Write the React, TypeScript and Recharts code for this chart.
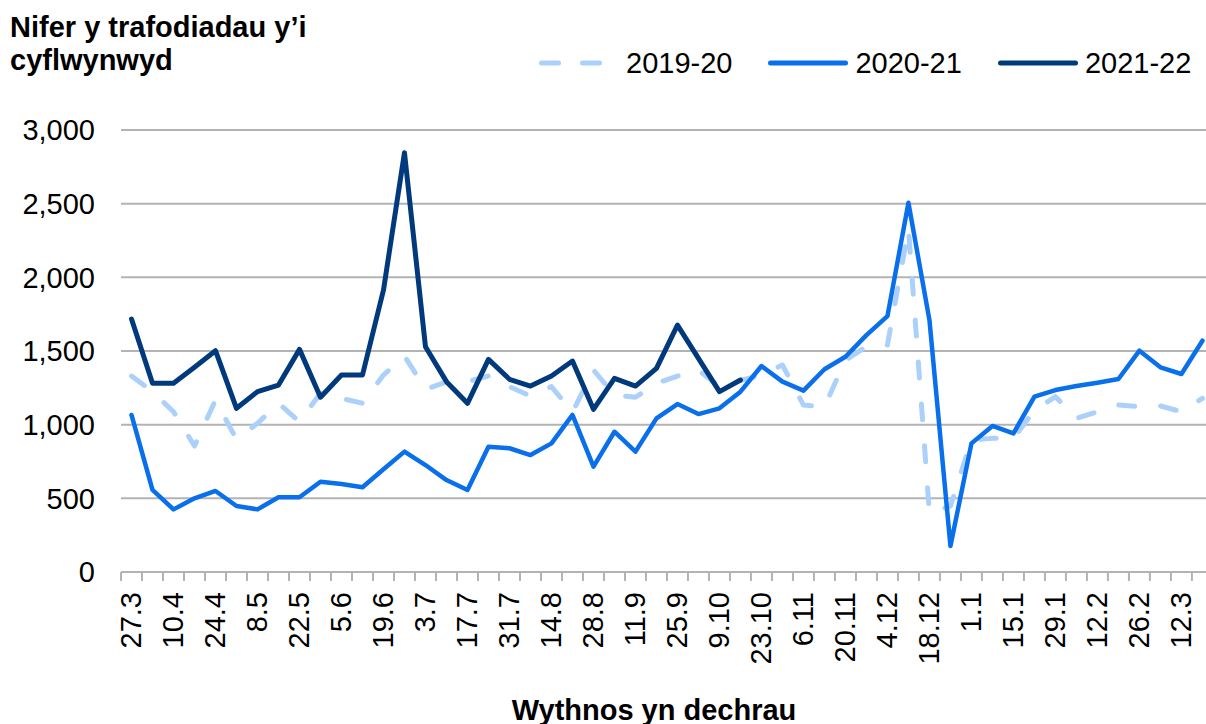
import React from "react";
import { LineChart, Line, XAxis, YAxis, CartesianGrid, Legend } from "recharts";

const WEEKS = [
  "27.3", "3.4", "10.4", "17.4", "24.4", "1.5", "8.5", "15.5", "22.5", "29.5",
  "5.6", "12.6", "19.6", "26.6", "3.7", "10.7", "17.7", "24.7", "31.7", "7.8",
  "14.8", "21.8", "28.8", "4.9", "11.9", "18.9", "25.9", "2.10", "9.10", "16.10",
  "23.10", "30.10", "6.11", "13.11", "20.11", "27.11", "4.12", "11.12", "18.12", "25.12",
  "1.1", "8.1", "15.1", "22.1", "29.1", "5.2", "12.2", "19.2", "26.2", "5.3",
  "12.3", "19.3",
];

const S2019 = [
  1330, 1224, 1088, 855, 1167, 900, 1009, 1145, 1020, 1213,
  1179, 1145, 1337, 1466, 1240, 1290, 1292, 1330, 1258, 1194,
  1258, 1085, 1371, 1201, 1186, 1281, 1330, 1371, 1258, 1300,
  1337, 1405, 1133, 1122, 1439, 1529, 1541, 2330, 398, 448,
  896, 907, 907, 1099, 1190, 1043, 1088, 1133, 1122, 1127,
  1088, 1179,
];

const S2020 = [
  1066, 557, 425, 500, 550, 448, 425, 507, 507, 613,
  597, 575, 697, 817, 726, 624, 557, 850, 840, 794,
  873, 1066, 715, 952, 817, 1043, 1140, 1072, 1111, 1224,
  1398, 1292, 1231, 1376, 1461, 1608, 1737, 2506, 1710, 176,
  873, 991, 941, 1190, 1235, 1262, 1285, 1310, 1502, 1389,
  1344, 1570,
];

const S2021 = [
  1717, 1281, 1281, 1389, 1502, 1111, 1224, 1269, 1511, 1186,
  1337, 1337, 1914, 2846, 1529, 1292, 1145, 1443, 1308, 1262,
  1330, 1432, 1104, 1314, 1262, 1382, 1676, 1450, 1224, 1303,
];

const Y_TICKS = [0, 500, 1000, 1500, 2000, 2500, 3000];

const SERIES = [
  { key: "s2019", name: "2019-20", color: "#abd0fa", width: 5, dash: "16 26" },
  { key: "s2020", name: "2020-21", color: "#0a6feb", width: 4.5, dash: undefined },
  { key: "s2021", name: "2021-22", color: "#003a7c", width: 5, dash: undefined },
];

const data = WEEKS.map((w, i) => ({
  idx: i,
  label: w,
  s2019: S2019[i] ?? null,
  s2020: S2020[i] ?? null,
  s2021: S2021[i] ?? null,
}));

const xTicks: number[] = [];
WEEKS.forEach((_, i) => {
  xTicks.push(i - 0.5);
  if (i % 2 === 0) xTicks.push(i);
});

const FONT = "'Liberation Sans', Arial, sans-serif";
const GRID = "#b3b3b3";

const XTick = (props: any) => {
  const { x, y, payload } = props;
  const v = payload.value as number;
  if (Number.isInteger(v)) {
    return (
      <text
        x={0}
        y={0}
        transform={`translate(${x},${y + 20}) rotate(-90)`}
        textAnchor="end"
        dominantBaseline="central"
        fontSize={29}
        fontFamily={FONT}
        fill="#000"
      >
        {WEEKS[v]}
      </text>
    );
  }
  return <line x1={x} x2={x} y1={y} y2={y + 9} stroke={GRID} strokeWidth={2} />;
};

const LegendContent = () => (
  <div style={{ display: "flex", alignItems: "center", gap: 36, fontFamily: FONT, fontSize: 29, lineHeight: "34px", color: "#000", whiteSpace: "nowrap" }}>
    {SERIES.map((s) => (
      <div key={s.key} style={{ display: "flex", alignItems: "center" }}>
        <svg width={80} height={10} style={{ display: "block" }}>
          <line
            x1={2.5}
            x2={77.5}
            y1={5}
            y2={5}
            stroke={s.color}
            strokeWidth={5}
            strokeLinecap="round"
            strokeDasharray={s.dash ? "17 24" : undefined}
          />
        </svg>
        <span style={{ marginLeft: 7 }}>{s.name}</span>
      </div>
    ))}
  </div>
);

export default function App() {
  return (
    <div style={{ position: "relative", width: 1206, height: 724, background: "#fff" }}>
      <style>{"html,body{margin:0;padding:0;overflow:hidden;background:#fff}"}</style>
      <div
        style={{
          position: "absolute",
          left: 10,
          top: 11,
          fontFamily: FONT,
          fontWeight: "bold",
          fontSize: 29,
          lineHeight: "33px",
          color: "#000",
          whiteSpace: "nowrap",
        }}
      >
        Nifer y trafodiadau y’i
        <br />
        cyflwynwyd
      </div>
      <LineChart
        width={1206}
        height={724}
        data={data}
        margin={{ top: 130, right: 0, left: 0, bottom: 0 }}
      >
        <CartesianGrid vertical={false} stroke={GRID} strokeWidth={2} />
        <XAxis
          dataKey="idx"
          type="number"
          domain={[-0.5, 51.17]}
          ticks={xTicks}
          interval={0}
          tick={<XTick />}
          tickLine={false}
          tickSize={0}
          tickMargin={0}
          axisLine={{ stroke: GRID, strokeWidth: 2 }}
          height={152}
          allowDataOverflow
        />
        <YAxis
          type="number"
          domain={[0, 3000]}
          ticks={Y_TICKS}
          width={121}
          axisLine={false}
          tickLine={false}
          tickSize={0}
          tickMargin={26}
          tick={{ fontSize: 29, fontFamily: FONT, fill: "#000" }}
          tickFormatter={(v: number) => v.toLocaleString("en-US")}
        />
        <Legend
          layout="horizontal"
          verticalAlign="middle"
          align="center"
          content={<LegendContent />}
          wrapperStyle={{ position: "absolute", top: 46, left: 539, width: "auto", height: "auto" }}
        />
        {SERIES.map((s) => (
          <Line
            key={s.key}
            dataKey={s.key}
            name={s.name}
            type="linear"
            stroke={s.color}
            strokeWidth={s.width}
            strokeDasharray={s.dash}
            strokeLinecap="round"
            strokeLinejoin="round"
            dot={false}
            activeDot={false}
            isAnimationActive={false}
          />
        ))}
      </LineChart>
      <div
        style={{
          position: "absolute",
          left: 654,
          top: 697,
          transform: "translateX(-50%)",
          fontFamily: FONT,
          fontWeight: "bold",
          fontSize: 29,
          lineHeight: "26px",
          color: "#000",
          whiteSpace: "nowrap",
        }}
      >
        Wythnos yn dechrau
      </div>
    </div>
  );
}
